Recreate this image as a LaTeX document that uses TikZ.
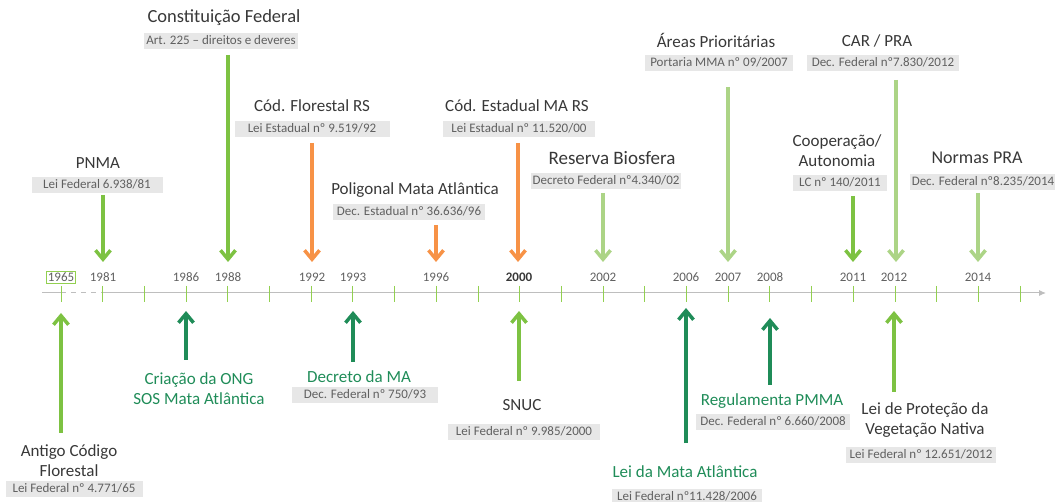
\documentclass[tikz,border=0pt]{standalone}
\usepackage{fontspec}
\setmainfont{Carlito}
\usepackage{tikz}
\usetikzlibrary{arrows.meta}
\definecolor{verdeA}{RGB}{125,194,66}
\definecolor{verdeB}{RGB}{172,212,134}
\definecolor{verdeE}{RGB}{31,140,88}
\definecolor{laranja}{RGB}{247,146,70}
\definecolor{cinzaT}{RGB}{56,56,56}
\definecolor{cinzaL}{RGB}{96,96,96}
\definecolor{cinzaF}{RGB}{231,231,231}
\definecolor{eixo}{RGB}{190,190,190}
\definecolor{marca}{RGB}{146,208,80}
\tikzset{
  titulo/.style={text=cinzaT, font=\fontsize{17}{20}\selectfont, align=center, inner sep=0pt},
  lei/.style={text=cinzaL, fill=cinzaF, font=\fontsize{13}{15}\selectfont,
    inner xsep=2pt, inner ysep=2pt, text height=9.5pt, text depth=3pt, minimum width=150pt},
  ano/.style={text=cinzaL, font=\fontsize{13}{15}\selectfont, inner sep=1.5pt},
  seta/.style={line width=3.5pt, -{Straight Barb[length=9pt,width=15pt]}},
}

\begin{document}
\begin{tikzpicture}[x=1pt,y=-1pt]
\useasboundingbox (0,0) rectangle (1055,502);

% eixo do tempo
\draw[eixo, line width=1pt] (42,293) -- (61,293);
\draw[eixo, line width=1pt, dash pattern=on 5pt off 5pt] (61,293) -- (103,293);
\draw[eixo, line width=1pt, -{Latex[length=7pt,width=6pt]}] (103,293) -- (1046,293);
\foreach \i in {0,...,23}
  \draw[marca, line width=1pt] ({61+41.7*\i},286) -- ++(0,16);

% anos
\node[ano, draw=marca, line width=0.8pt] (a1965) at (61,277) {1965};
\node[ano] (a1981) at (103,277) {1981};
\node[ano] (a1986) at (186,277) {1986};
\node[ano] (a1988) at (228,277) {1988};
\node[ano] (a1992) at (312,277) {1992};
\node[ano] (a1993) at (353,277) {1993};
\node[ano] (a1996) at (436,277) {1996};
\node[ano, text=cinzaT] (a2000) at (519,277) {\textbf{2000}};
\node[ano] (a2002) at (603,277) {2002};
\node[ano] (a2006) at (686,277) {2006};
\node[ano] (a2007) at (728,277) {2007};
\node[ano] (a2008) at (770,277) {2008};
\node[ano] (a2011) at (853,277) {2011};
\node[ano] (a2012) at (894,277) {2012};
\node[ano] (a2014) at (978,277) {2014};

% acima do eixo
\node[titulo] (pnma) at (98,163) {PNMA};
\node[lei, minimum width=131pt] (pnmaLei) at (97,185) {Lei Federal 6.938/81};
\coordinate (pnmaI) at (103,195);
\coordinate (pnmaF) at (103,262);
\draw[seta, verdeA] (pnmaI) -- (pnmaF);

\node[titulo, font=\fontsize{18.5}{20}\selectfont] (cf) at (224,18) {Constituição Federal};
\node[lei, minimum width=153pt] (cfLei) at (221,41) {Art. 225 -- direitos e deveres};
\coordinate (cfI) at (228,55);
\coordinate (cfF) at (228,262);
\draw[seta, verdeA] (cfI) -- (cfF);

\node[titulo] (cfrs) at (312,106) {Cód. Florestal RS};
\node[lei, minimum width=155pt] (cfrsLei) at (312,129) {Lei Estadual nº 9.519/92};
\coordinate (cfrsI) at (312,143);
\coordinate (cfrsF) at (312,262);
\draw[seta, laranja] (cfrsI) -- (cfrsF);

\node[titulo] (pol) at (415,190) {Poligonal Mata Atlântica};
\node[lei, minimum width=152pt] (polLei) at (409,212) {Dec. Estadual nº 36.636/96};
\coordinate (polI) at (436,225);
\coordinate (polF) at (436,262);
\draw[seta, laranja] (polI) -- (polF);

\node[titulo] (cema) at (517,106) {Cód. Estadual MA RS};
\node[lei, minimum width=152pt] (cemaLei) at (519,129) {Lei Estadual nº 11.520/00};
\coordinate (cemaI) at (518,143);
\coordinate (cemaF) at (518,262);
\draw[seta, laranja] (cemaI) -- (cemaF);

\node[titulo, font=\fontsize{19}{20}\selectfont] (rb) at (612,158) {Reserva Biosfera};
\node[lei, minimum width=148pt] (rbLei) at (606,181) {Decreto Federal nº4.340/02};
\coordinate (rbI) at (603,193);
\coordinate (rbF) at (603,262);
\draw[seta, verdeB] (rbI) -- (rbF);

\node[titulo] (ap) at (716,40) {Áreas Prioritárias};
\node[lei, minimum width=148pt] (apLei) at (719,63) {Portaria MMA nº 09/2007};
\coordinate (apI) at (728,87);
\coordinate (apF) at (728,262);
\draw[seta, verdeB] (apI) -- (apF);

\node[titulo] (coop) at (837,151) {Cooperação/\\Autonomia};
\node[lei, minimum width=94pt] (coopLei) at (840,183) {LC nº 140/2011};
\coordinate (coopI) at (853,196);
\coordinate (coopF) at (853,262);
\draw[seta, verdeA] (coopI) -- (coopF);

\node[titulo] (car) at (877,41) {CAR / PRA};
\node[lei, minimum width=152pt] (carLei) at (883,63) {Dec. Federal nº7.830/2012};
\coordinate (carI) at (896,80);
\coordinate (carF) at (896,262);
\draw[seta, verdeB] (carI) -- (carF);

\node[titulo, font=\fontsize{18}{20}\selectfont] (npra) at (977,158) {Normas PRA};
\node[lei, minimum width=146pt] (npraLei) at (983,182) {Dec. Federal nº8.235/2014};
\coordinate (npraI) at (978,193);
\coordinate (npraF) at (978,262);
\draw[seta, verdeB] (npraI) -- (npraF);

% abaixo do eixo
\coordinate (acfI) at (61,433);
\coordinate (acfF) at (61,313);
\draw[seta, verdeA] (acfI) -- (acfF);
\node[titulo] (acf) at (69,461) {Antigo Código\\Florestal};
\node[lei, minimum width=137pt] (acfLei) at (74,489) {Lei Federal nº 4.771/65};

\coordinate (ongI) at (186,360);
\coordinate (ongF) at (186,311);
\draw[seta, verdeE] (ongI) -- (ongF);
\node[titulo, text=verdeE] (ong) at (199,389) {Criação da ONG\\SOS Mata Atlântica};

\coordinate (dmaI) at (353,362);
\coordinate (dmaF) at (353,311);
\draw[seta, verdeE] (dmaI) -- (dmaF);
\node[titulo, text=verdeE] (dma) at (359,377) {Decreto da MA};
\node[lei, minimum width=146pt] (dmaLei) at (365,395) {Dec. Federal nº 750/93};

\coordinate (snucI) at (519,381);
\coordinate (snucF) at (519,311);
\draw[seta, verdeA] (snucI) -- (snucF);
\node[titulo] (snuc) at (522,405) {SNUC};
\node[lei, minimum width=152pt] (snucLei) at (524,432) {Lei Federal nº 9.985/2000};

\coordinate (lmaI) at (686,443);
\coordinate (lmaF) at (686,308);
\draw[seta, verdeE] (lmaI) -- (lmaF);
\node[titulo, text=verdeE] (lma) at (685,472) {Lei da Mata Atlântica};
\node[lei] (lmaLei) at (687,497) {Lei Federal nº11.428/2006};

\coordinate (pmmaI) at (770,385);
\coordinate (pmmaF) at (770,318);
\draw[seta, verdeE] (pmmaI) -- (pmmaF);
\node[titulo, text=verdeE] (pmma) at (772,401) {Regulamenta PMMA};
\node[lei, minimum width=154pt] (pmmaLei) at (773,422) {Dec. Federal nº 6.660/2008};

\coordinate (lpvI) at (894,392);
\coordinate (lpvF) at (894,311);
\draw[seta, verdeA] (lpvI) -- (lpvF);
\node[titulo] (lpv) at (925,420) {Lei de Proteção da\\Vegetação Nativa};
\node[lei] (lpvLei) at (921,455) {Lei Federal nº 12.651/2012};
\end{tikzpicture}
\end{document}
